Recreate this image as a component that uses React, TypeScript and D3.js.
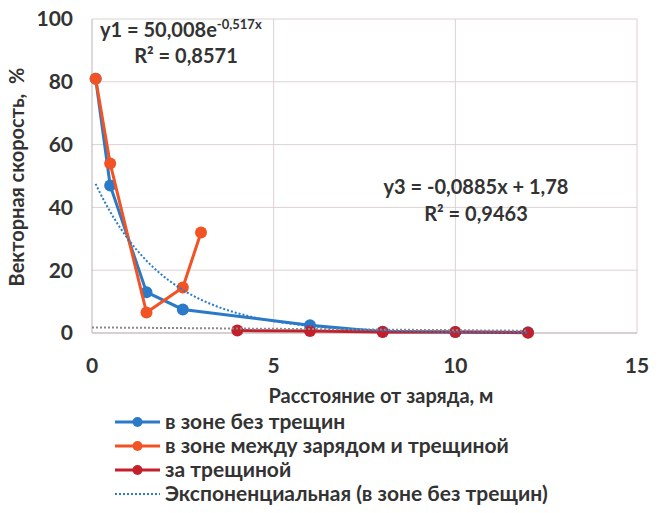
import React from 'react';
import * as d3 from 'd3';

// series
const blueX = [0.1, 0.5, 1.5, 2.5, 6, 8, 10, 12];
const blueY = [81, 47, 13, 7.5, 2.5, 0.4, 0.3, 0.2];
const orangeX = [0.1, 0.5, 1.5, 2.5, 3];
const orangeY = [81, 54, 6.5, 14.5, 32];
const redX = [4, 6, 8, 10, 12];
const redY = [0.8, 0.6, 0.3, 0.3, 0.1];

// trend line coefficients as printed on the chart
const expA = 50.008;
const expB = -0.517;
const linK = -0.0885;
const linC = 1.78;

const xTicks = [0, 5, 10, 15];
const yTicks = [0, 20, 40, 60, 80, 100];

const legendItems = [
  { label: 'в зоне без трещин', color: '#2a7ac7', marker: true },
  { label: 'в зоне между зарядом и трещиной', color: '#f25324', marker: true },
  { label: 'за трещиной', color: '#c4202b', marker: true },
  { label: 'Экспоненциальная (в зоне без трещин)', color: '#2a7ac7', marker: false },
];

const W = 662;
const H = 513;
const font = 'Lato, "Open Sans", sans-serif';
const textColor = '#333';

const App: React.FC = () => {
  const x = d3.scaleLinear().domain([0, 15]).range([92, 637]);
  const y = d3.scaleLinear().domain([0, 100]).range([333, 19]);

  const line = d3.line<[number, number]>()
    .x(d => x(d[0]))
    .y(d => y(d[1]));

  const zip = (xs: number[], ys: number[]) => xs.map((v, i) => [v, ys[i]] as [number, number]);

  const expPts = d3.range(0.1, 12.01, 0.1).map(v => [v, expA * Math.exp(expB * v)] as [number, number]);
  const linPts: [number, number][] = [[0, linC], [12, linC + linK * 12]];

  const series = [
    { pts: zip(blueX, blueY), color: '#2a7ac7' },
    { pts: zip(orangeX, orangeY), color: '#f25324' },
    { pts: zip(redX, redY), color: '#c4202b' },
  ];

  return (
    <svg width={W} height={H} style={{ position: 'absolute', left: 0, top: 0, background: '#fff' }}>
      {/* grid */}
      {yTicks.filter(t => t > 0).map(t => (
        <line key={'gy' + t} x1={x(0)} x2={x(15)} y1={y(t)} y2={y(t)} stroke="#dcd2d2" strokeWidth={1} />
      ))}
      {xTicks.filter(t => t > 0).map(t => (
        <line key={'gx' + t} x1={x(t)} x2={x(t)} y1={y(0)} y2={y(100)} stroke="#dcd2d2" strokeWidth={1} />
      ))}
      <line x1={x(0)} x2={x(0)} y1={y(0)} y2={y(100)} stroke="#c8c0c0" strokeWidth={1.2} />
      <line x1={x(0)} x2={x(15)} y1={y(0)} y2={y(0)} stroke="#c8c0c0" strokeWidth={1.5} />

      {/* tick labels */}
      {yTicks.map(t => (
        <text key={'ty' + t} x={73} y={y(t)} dy="0.35em" textAnchor="end" fontFamily={font} fontWeight="bold" fontSize={21} fill={textColor}>
          {t}
        </text>
      ))}
      {xTicks.map(t => (
        <text key={'tx' + t} x={x(t)} y={366} dy="0.35em" textAnchor="middle" fontFamily={font} fontWeight="bold" fontSize={21} fill={textColor}>
          {t}
        </text>
      ))}

      {/* axis titles */}
      <text transform="translate(24,177) rotate(-90)" textAnchor="middle" fontFamily={font} fontWeight="bold" fontSize={20} fill={textColor} style={{ whiteSpace: 'pre' }}>
        {'Векторная скорость,  %'}
      </text>
      <text x={381} y={396} dy="0.35em" textAnchor="middle" fontFamily={font} fontWeight="bold" fontSize={20} fill={textColor}>
        Расстояние от заряда, м
      </text>

      {/* series */}
      {series.map((s, i) => (
        <g key={'s' + i}>
          <path d={line(s.pts) || ''} fill="none" stroke={s.color} strokeWidth={3} />
          {s.pts.map((p, j) => (
            <circle key={j} cx={x(p[0])} cy={y(p[1])} r={6} fill={s.color} />
          ))}
        </g>
      ))}

      {/* trend lines */}
      <path d={line(linPts) || ''} fill="none" stroke="#8a8a8a" strokeWidth={2} strokeDasharray="2 2" />
      <path d={line(expPts) || ''} fill="none" stroke="#2a7ac7" strokeWidth={2} strokeDasharray="2 2" />

      {/* equations */}
      <text x={100} y={30} dy="0.35em" fontFamily={font} fontWeight="bold" fontSize={20} fill={textColor}>
        y1 = 50,008e<tspan dy="-8" fontSize={13}>-0,517x</tspan>
      </text>
      <text x={186} y={56} dy="0.35em" textAnchor="middle" fontFamily={font} fontWeight="bold" fontSize={20} fill={textColor}>
        R² = 0,8571
      </text>
      <text x={476} y={187} dy="0.35em" textAnchor="middle" fontFamily={font} fontWeight="bold" fontSize={20} fill={textColor}>
        y3 = -0,0885x + 1,78
      </text>
      <text x={476} y={214} dy="0.35em" textAnchor="middle" fontFamily={font} fontWeight="bold" fontSize={20} fill={textColor}>
        R² = 0,9463
      </text>

      {/* legend */}
      {legendItems.map((it, i) => {
        const ly = 422 + i * 24;
        return (
          <g key={'l' + i}>
            {it.marker ? (
              <>
                <line x1={115} x2={160} y1={ly} y2={ly} stroke={it.color} strokeWidth={3} />
                <circle cx={137.5} cy={ly} r={5} fill={it.color} />
              </>
            ) : (
              <line x1={115} x2={160} y1={ly} y2={ly} stroke={it.color} strokeWidth={2} strokeDasharray="2 2" />
            )}
            <text x={165} y={ly} dy="0.35em" fontFamily={font} fontWeight="bold" fontSize={21} fill={textColor}>
              {it.label}
            </text>
          </g>
        );
      })}
    </svg>
  );
};

export default App;
